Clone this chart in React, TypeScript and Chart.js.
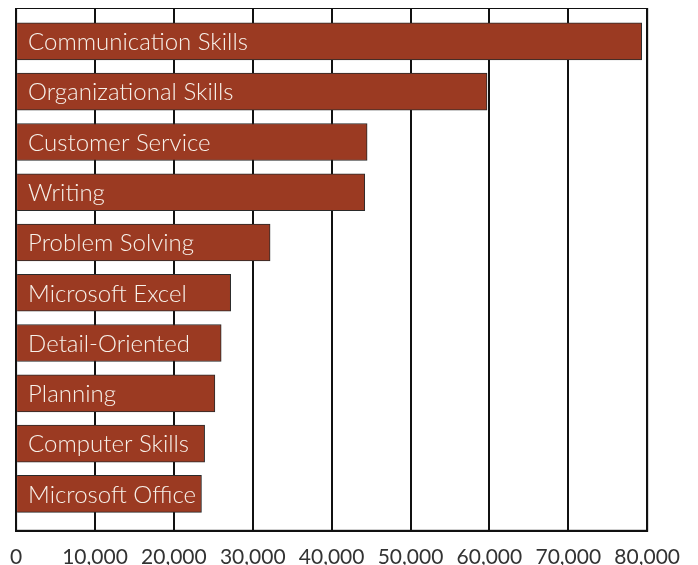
import React, { useEffect, useRef } from "react";
import { Chart, registerables } from "chart.js";

Chart.register(...registerables);

const skills = [
  "Communication Skills",
  "Organizational Skills",
  "Customer Service",
  "Writing",
  "Problem Solving",
  "Microsoft Excel",
  "Detail-Oriented",
  "Planning",
  "Computer Skills",
  "Microsoft Office",
];
const counts = [79300, 59700, 44500, 44200, 32200, 27200, 26000, 25200, 23900, 23500];
const xTicksMax = 80000;
const xTickStep = 10000;

const barLabelPlugin = {
  id: "barLabels",
  afterDatasetsDraw(chart: any) {
    const ctx = chart.ctx;
    const meta = chart.getDatasetMeta(0);
    ctx.save();
    ctx.font = "300 24px Lato";
    ctx.fillStyle = "#f7f1ea";
    ctx.textBaseline = "middle";
    ctx.textAlign = "left";
    meta.data.forEach((bar: any, i: number) => {
      ctx.fillText(skills[i], bar.base + 11, bar.y + 1);
    });
    ctx.restore();
  },
};

const framePlugin = {
  id: "frame",
  beforeDatasetsDraw(chart: any) {
    const { ctx, chartArea } = chart;
    ctx.save();
    ctx.strokeStyle = "#111";
    ctx.lineWidth = 2;
    ctx.strokeRect(chartArea.left, chartArea.top, chartArea.right - chartArea.left, chartArea.bottom - chartArea.top);
    ctx.restore();
  },
};

export default function App() {
  const ref = useRef<HTMLCanvasElement>(null);
  useEffect(() => {
    if (!ref.current) return;
    document.body.style.overflow = "hidden";
    const chart = new Chart(ref.current, {
      type: "bar",
      data: {
        labels: skills,
        datasets: [
          {
            data: counts.map((v, i) => ({ x: v, y: i })),
            backgroundColor: "#9b3a22",
            borderColor: "#2a2a2a",
            borderWidth: 1,
            barThickness: 37,
          },
        ],
      },
      options: {
        indexAxis: "y",
        responsive: false,
        animation: false,
        layout: { padding: { left: 0, right: 10, top: 0, bottom: -5 } },
        plugins: { legend: { display: false }, tooltip: { enabled: false } },
        scales: {
          x: {
            type: "linear",
            min: 0,
            max: xTicksMax,
            ticks: {
              stepSize: xTickStep,
              color: "#333",
              font: { family: "Lato", size: 21 },
              padding: 14,
              maxRotation: 0,
              callback: (v: any) => Number(v).toLocaleString("en-US"),
            },
            grid: { color: "#111", lineWidth: 2, drawTicks: false },
            border: { color: "#111", width: 2 },
          },
          y: {
            type: "linear",
            reverse: true,
            offset: false,
            min: -0.665,
            max: 9.735,
            display: false,
            ticks: { stepSize: 1 },
            grid: { display: false, offset: false },
          },
        },
      },
      plugins: [framePlugin, barLabelPlugin],
    });
    return () => chart.destroy();
  }, []);
  return (
    <div style={{ width: 698, height: 571, marginLeft: -12 }}>
      <canvas ref={ref} width={698} height={571} style={{ width: 698, height: 571 }} />
    </div>
  );
}
